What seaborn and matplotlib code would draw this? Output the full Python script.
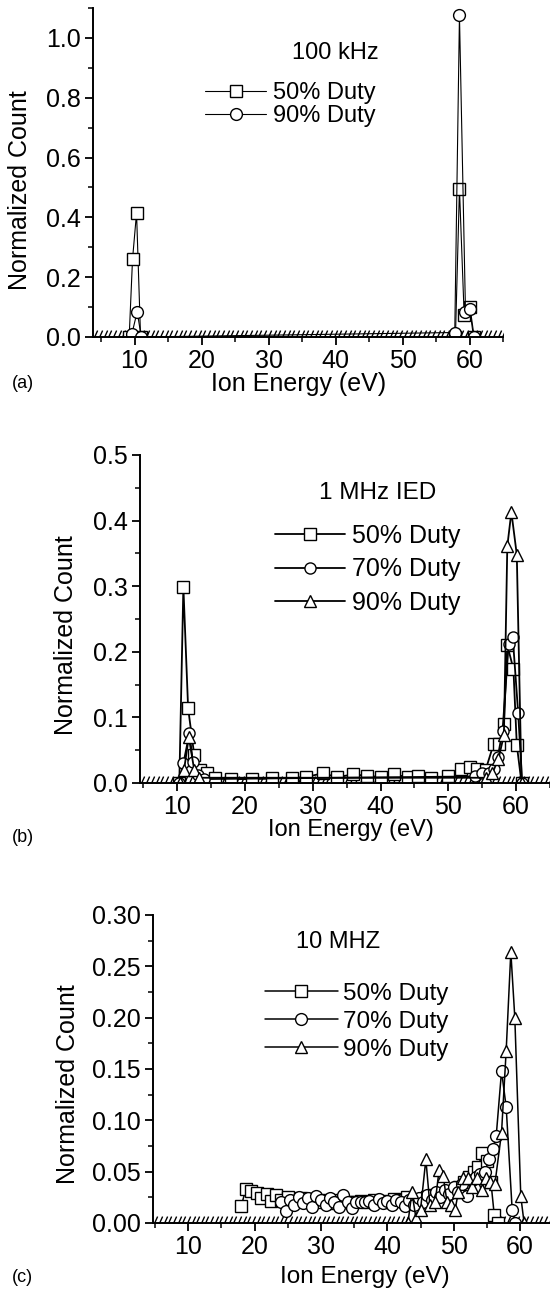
import numpy as np
import pandas as pd
import matplotlib
matplotlib.use("Agg")
import matplotlib.pyplot as plt
import seaborn as sns
from matplotlib.lines import Line2D
from matplotlib.ticker import MultipleLocator, FormatStrFormatter

sns.set_theme(style="ticks")
plt.rcParams['font.family'] = ['Liberation Sans', 'DejaVu Sans']
plt.rcParams.update({'text.color': 'black', 'axes.labelcolor': 'black',
                     'xtick.color': 'black', 'ytick.color': 'black'})

# ---------------- data ----------------
# (a) 100 kHz
a_e50 = [9.2, 9.7, 10.3, 10.9, 57.9, 58.5, 59.2, 60.0, 60.6]
a_c50 = [0.0, 0.26, 0.415, 0.0, 0.0, 0.495, 0.075, 0.10, 0.0]
a_e90 = [9.6, 10.4, 11.0, 57.8, 58.5, 59.4, 60.1, 60.7]
a_c90 = [0.01, 0.085, 0.0, 0.015, 1.075, 0.085, 0.095, 0.0]

# (b) 1 MHz
b_e50 = [10.3, 10.9, 11.6, 12.5, 13.4, 14.4, 15.5, 18.0, 21.0, 24.0, 27.0, 29.0,
         31.5, 33.5, 36.0, 38.0, 40.0, 42.0, 44.0, 45.5, 47.5, 50.0, 51.9, 53.2,
         54.2, 55.5, 56.7, 57.5, 58.2, 58.7, 59.6, 60.1, 60.8]
b_c50 = [0.0, 0.299, 0.114, 0.043, 0.02, 0.015, 0.008, 0.006, 0.006, 0.007, 0.008, 0.009,
         0.015, 0.009, 0.013, 0.011, 0.009, 0.013, 0.009, 0.011, 0.008, 0.01, 0.022, 0.025,
         0.022, 0.02, 0.06, 0.06, 0.09, 0.21, 0.174, 0.058, 0.0]
b_e70 = [10.3, 10.9, 11.8, 12.3, 13.0, 14.0, 54.0, 55.0, 56.0, 56.7, 57.3, 58.0,
         58.9, 59.5, 60.3, 60.9]
b_c70 = [0.0, 0.03, 0.076, 0.032, 0.012, 0.006, 0.01, 0.015, 0.015, 0.022, 0.04, 0.08,
         0.212, 0.223, 0.107, 0.0]
b_e90 = [10.4, 11.0, 11.7, 12.5, 13.2, 55.5, 56.5, 57.4, 58.2, 58.7, 59.3, 60.1, 60.8]
b_c90 = [0.0, 0.02, 0.07, 0.02, 0.008, 0.008, 0.015, 0.037, 0.073, 0.361, 0.413, 0.348, 0.0]

# (c) 10 MHz
c_e50 = [18.0, 18.7, 19.5, 20.3, 21.0, 21.8, 22.5, 23.3, 24.0, 25.0, 26.0, 27.0, 28.0,
         29.0, 30.0, 31.0, 32.0, 33.0, 34.0, 35.0, 36.0, 37.0, 38.0, 39.0, 40.0, 41.0,
         42.0, 43.0, 44.0, 45.0, 46.0, 47.0, 48.0, 49.0, 50.2, 50.8, 51.5, 52.3, 53.0,
         53.7, 54.3, 55.0, 55.6, 56.1, 56.6]
c_c50 = [0.017, 0.033, 0.031, 0.029, 0.024, 0.028, 0.021, 0.027, 0.022, 0.025, 0.021,
         0.024, 0.02, 0.023, 0.02, 0.022, 0.019, 0.022, 0.02, 0.02, 0.021, 0.02, 0.022,
         0.021, 0.02, 0.023, 0.022, 0.025, 0.02, 0.022, 0.025, 0.027, 0.028, 0.03, 0.03,
         0.035, 0.04, 0.045, 0.05, 0.055, 0.068, 0.06, 0.04, 0.008, 0.0]
c_e70 = [24.0, 24.7, 25.3, 26.0, 26.7, 27.3, 28.0, 28.7, 29.3, 30.0, 30.7, 31.3, 32.0,
         32.7, 33.3, 34.0, 34.7, 35.3, 36.0, 36.7, 37.3, 38.0, 38.7, 39.3, 40.0, 40.7,
         41.3, 42.0, 42.7, 43.3, 44.0, 44.7, 45.3, 46.0, 46.7, 47.3, 48.0, 48.7, 49.3,
         50.0, 50.7, 51.3, 52.0, 52.7, 53.3, 54.0, 54.7, 55.3, 55.9, 56.4, 57.2, 57.9,
         58.8, 59.3]
c_c70 = [0.02, 0.012, 0.022, 0.018, 0.025, 0.019, 0.024, 0.016, 0.026, 0.022, 0.018,
         0.024, 0.02, 0.016, 0.027, 0.02, 0.015, 0.02, 0.02, 0.02, 0.021, 0.018, 0.023,
         0.019, 0.021, 0.018, 0.022, 0.02, 0.017, 0.022, 0.018, 0.024, 0.02, 0.027,
         0.022, 0.03, 0.025, 0.032, 0.028, 0.035, 0.03, 0.038, 0.026, 0.042, 0.045,
         0.048, 0.05, 0.062, 0.072, 0.085, 0.148, 0.113, 0.013, 0.0]
c_e90 = [43.1, 43.7, 44.3, 45.0, 45.8, 46.4, 47.2, 47.8, 48.4, 49.0, 49.6, 50.2, 50.7,
         51.4, 52.1, 52.8, 53.5, 54.2, 54.8, 55.5, 56.2, 57.2, 57.9, 58.6, 59.2, 60.1,
         60.6]
c_c90 = [0.0, 0.03, 0.005, 0.013, 0.062, 0.018, 0.02, 0.052, 0.046, 0.02, 0.018, 0.013,
         0.03, 0.044, 0.044, 0.035, 0.044, 0.032, 0.044, 0.04, 0.038, 0.088, 0.168, 0.264,
         0.2, 0.026, 0.0]

# zero-count energy bins (form the hatched baseline)
zero_bins_a = np.arange(4.0, 65.0, 0.7)
zero_bins_b = np.arange(4.7, 65.0, 0.7)
zero_bins_c = np.concatenate([np.arange(4.9, 43.0, 0.7), np.arange(56.6, 64.5, 0.7)])

duty_labels = ['50% Duty', '70% Duty', '90% Duty']

# ---------------- figure ----------------
W, H = 550, 1298
fig = plt.figure(figsize=(W / 100, H / 100), dpi=100)


def frac_axes(l, r, t, b):
    return fig.add_axes([l / W, 1 - b / H, (r - l) / W, (b - t) / H])


ax_a = frac_axes(93, 503, 8, 337)
ax_b = frac_axes(140, 550, 455, 783)
ax_c = frac_axes(153, 550, 915, 1223)

hatch_marker = [(-0.45, -1.0), (0.45, 1.0)]


def draw(ax, series, zero_bins, ms, lw):
    frames = []
    for lab, mk, e, c in series:
        frames.append(pd.DataFrame({'energy': e, 'count': c, 'duty': lab}))
    df = pd.concat(frames, ignore_index=True)
    mk_map = {s[0]: s[1] for s in series}
    sns.lineplot(data=df, x='energy', y='count', hue='duty', style='duty',
                 markers=mk_map, dashes=False,
                 palette={k: 'black' for k in mk_map}, estimator=None,
                 markerfacecolor='white', markeredgecolor='black', markersize=ms,
                 markeredgewidth=1.0, linewidth=lw, legend=False, ax=ax, zorder=3)
    ax.plot(zero_bins, np.zeros_like(zero_bins), ls='none', marker=hatch_marker,
            ms=10, mec='black', mew=1.0, color='black', zorder=1)
    sns.despine(ax=ax)
    for sp in ['left', 'bottom']:
        ax.spines[sp].set_linewidth(1.4)
        ax.spines[sp].set_color('black')
        ax.spines[sp].set_zorder(4)
    ax.tick_params(which='major', direction='out', length=6, width=1.3, colors='black',
                   labelsize=18, pad=3)
    ax.tick_params(which='minor', direction='out', length=3.5, width=1.1, colors='black')
    ax.set_ylabel('Normalized Count', fontsize=18, color='black')
    ax.xaxis.set_major_locator(MultipleLocator(10))
    ax.xaxis.set_minor_locator(MultipleLocator(5))
    ax.set_facecolor('white')

    handles = [Line2D([], [], color='black', lw=lw, marker=mk_map[k], ms=ms,
                      mfc='white', mec='black', mew=1.0) for k in mk_map]
    return handles, list(mk_map)


# (a)
h, labs = draw(ax_a, [('50% Duty', 's', a_e50, a_c50), ('90% Duty', 'o', a_e90, a_c90)],
               zero_bins_a, 8.5, 0.8)
ax_a.set_xlim(3.8, 65)
ax_a.set_ylim(0, 1.1)
ax_a.yaxis.set_major_locator(MultipleLocator(0.2))
ax_a.yaxis.set_minor_locator(MultipleLocator(0.1))
ax_a.yaxis.set_major_formatter(FormatStrFormatter('%.1f'))
ax_a.legend(handles=h, labels=labs, loc='upper left',
            bbox_to_anchor=(0.273, 0.775), frameon=False, fontsize=17,
            handlelength=2.6, handletextpad=0.3, labelspacing=0.05,
            borderpad=0, borderaxespad=0)
ax_a.text(0.59, 0.863, '100 kHz', transform=ax_a.transAxes, ha='center', va='center',
          fontsize=17)
ax_a.set_xlabel('Ion Energy (eV)', fontsize=18)
ax_a.yaxis.set_label_coords(-0.149, 0.447)
ax_a.xaxis.set_label_coords(0.502, -0.105)

# (b)
h, labs = draw(ax_b, [('50% Duty', 's', b_e50, b_c50), ('70% Duty', 'o', b_e70, b_c70),
                      ('90% Duty', '^', b_e90, b_c90)], zero_bins_b, 8, 1.3)
ax_b.set_xlim(4.5, 65)
ax_b.set_ylim(0, 0.5)
ax_b.yaxis.set_major_locator(MultipleLocator(0.1))
ax_b.yaxis.set_minor_locator(MultipleLocator(0.05))
ax_b.yaxis.set_major_formatter(FormatStrFormatter('%.1f'))
ax_b.legend(handles=h, labels=labs, loc='upper left',
            bbox_to_anchor=(0.329, 0.79), frameon=False, fontsize=18,
            handlelength=2.8, handletextpad=0.3, labelspacing=0.38,
            borderpad=0, borderaxespad=0)
ax_b.text(0.58, 0.885, '1 MHz IED', transform=ax_b.transAxes, ha='center', va='center',
          fontsize=17.5)
ax_b.set_xlabel('Ion Energy (eV)', fontsize=17)
ax_b.yaxis.set_label_coords(-0.151, 0.451)
ax_b.xaxis.set_label_coords(0.515, -0.11)

# (c)
h, labs = draw(ax_c, [('50% Duty', 's', c_e50, c_c50), ('70% Duty', 'o', c_e70, c_c70),
                      ('90% Duty', '^', c_e90, c_c90)], zero_bins_c, 8.5, 1.1)
ax_c.set_xlim(4.7, 64.5)
ax_c.set_ylim(0, 0.30)
ax_c.yaxis.set_major_locator(MultipleLocator(0.05))
ax_c.yaxis.set_minor_locator(MultipleLocator(0.025))
ax_c.yaxis.set_major_formatter(FormatStrFormatter('%.2f'))
ax_c.legend(handles=h, labels=labs, loc='upper left',
            bbox_to_anchor=(0.282, 0.78), frameon=False, fontsize=17.5,
            handlelength=3.0, handletextpad=0.2, labelspacing=0.25,
            borderpad=0, borderaxespad=0)
ax_c.text(0.466, 0.912, '10 MHZ', transform=ax_c.transAxes, ha='center', va='center',
          fontsize=17)
ax_c.set_xlabel('Ion Energy (eV)', fontsize=17.5)
ax_c.yaxis.set_label_coords(-0.184, 0.45)
ax_c.xaxis.set_label_coords(0.534, -0.14)

fig.text(12 / W, 1 - 383 / H, '(a)', fontsize=13, ha='left', va='center')
fig.text(12 / W, 1 - 838 / H, '(b)', fontsize=13, ha='left', va='center')
fig.text(12 / W, 1 - 1277 / H, '(c)', fontsize=13, ha='left', va='center')

fig.savefig('out.png', dpi=100, facecolor='white')
